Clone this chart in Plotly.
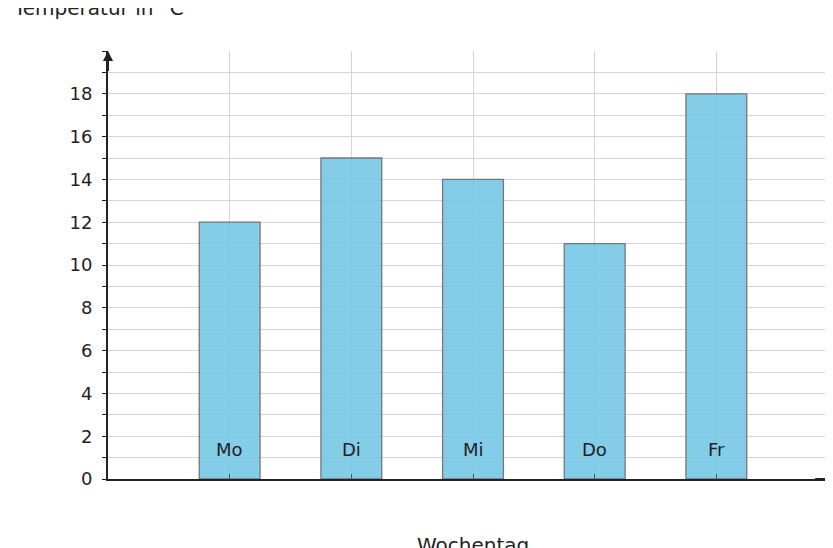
import plotly.graph_objects as go

days = ["Mo", "Di", "Mi", "Do", "Fr"]
temps = [12, 15, 14, 11, 18]
positions = [1, 2, 3, 4, 5]
yticks = [0, 2, 4, 6, 8, 10, 12, 14, 16, 18]

F = "DejaVu Sans"
fig = go.Figure(go.Bar(x=positions, y=temps, width=0.5,
                       marker=dict(color="rgba(110,196,228,0.85)", line=dict(color="#777777", width=1.3))))

ann = [dict(x=p, y=1.4, text=d, showarrow=False, font=dict(family=F, size=18, color="#222"), xref="x", yref="y")
       for p, d in zip(positions, days)]
ann += [
    dict(xref="paper", yref="paper", x=-0.133, y=1.1, text="Temperatur in °C", showarrow=False,
         xanchor="left", yanchor="middle", font=dict(family=F, size=20, color="#222")),
    dict(xref="paper", yref="paper", x=0.50, y=-0.155, text="Wochentag", showarrow=False,
         xanchor="center", yanchor="middle", font=dict(family=F, size=20, color="#222")),
    dict(xref="x", yref="y", x=6.0, y=0, ax=5.8, ay=0, axref="x", ayref="y", showarrow=True,
         arrowhead=2, arrowsize=1, arrowwidth=2, arrowcolor="#222", text=""),
    dict(xref="x", yref="y", x=0, y=20, ax=0, ay=19, axref="x", ayref="y", showarrow=True,
         arrowhead=2, arrowsize=1, arrowwidth=2, arrowcolor="#222", text=""),
]

fig.update_layout(
    width=833, height=548, margin=dict(l=100, r=3, t=43, b=77),
    plot_bgcolor="white", paper_bgcolor="white", showlegend=False,
    annotations=ann, font=dict(family=F, size=18, color="#222"),
    xaxis=dict(range=[0, 6], tickvals=[0, 1, 2, 3, 4, 5, 6], showticklabels=False,
               showgrid=True, gridcolor="#d4d4d4", gridwidth=1.3, zeroline=False,
               showline=True, linecolor="#222", linewidth=2, ticks="inside", ticklen=5, tickcolor="#555"),
    yaxis=dict(range=[0, 20], tickvals=yticks, showgrid=True, gridcolor="#d4d4d4", gridwidth=1.3,
               minor=dict(dtick=1, showgrid=True, gridcolor="#d4d4d4", ticks="outside", ticklen=4, tickcolor="#222"),
               ticks="outside", ticklen=4, tickcolor="#222", zeroline=False,
               showline=True, linecolor="#222", linewidth=2, ticklabelstandoff=6),
)
fig.write_html("out.html")
